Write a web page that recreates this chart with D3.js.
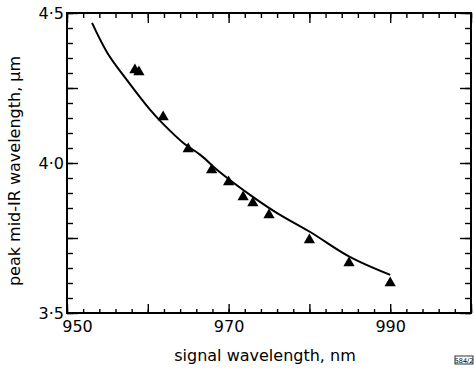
<!DOCTYPE html>
<html lang="en">
<head>
<meta charset="UTF-8">
<title>peak mid-IR wavelength</title>
<script src="https://cdn.jsdelivr.net/npm/d3@7"></script>
<style>
  body { margin: 0; background: #fff; }
  svg { display: block; font-family: "DejaVu Sans", sans-serif; }
  .axis path, .axis line { stroke: #000; }
  .axis text { fill: #000; }
</style>
</head>
<body>
<div id="chart"></div>
<script>
// measured points (triangles)
const signalNm = [958.4, 958.9, 961.9, 965.0, 967.9, 970.0, 971.8, 973.0, 975.0, 980.0, 984.9, 990.0];
const peakUm = [4.310, 4.303, 4.153, 4.047, 3.977, 3.937, 3.887, 3.867, 3.827, 3.743, 3.667, 3.600];

// theory curve
const curveNm = [953.1, 955.0, 957.4, 960.3, 961.8, 964.4, 966.5, 968.9, 973.0, 976.0, 980.1, 985.0, 990.0];
const curveUm = [4.467, 4.367, 4.277, 4.177, 4.133, 4.067, 4.027, 3.970, 3.887, 3.833, 3.770, 3.687, 3.627];

const xLabels = [950, 970, 990];
const yLabels = [3.5, 4.0, 4.5];

const w = 474, h = 368;
const m = {top: 13, right: 3, bottom: 55, left: 67};

const svg = d3.select("#chart").append("svg")
    .attr("width", w).attr("height", h);

const x = d3.scaleLinear().domain([950, 1000]).range([m.left, w - m.right]);
const y = d3.scaleLinear().domain([3.5, 4.5]).range([h - m.bottom, m.top]);

const xMinor = d3.range(950, 1001, 2);
const xMajor = d3.range(950, 1001, 10);
const yMinor = d3.range(3.5, 4.5001, 0.05);
const yMajor = [3.5, 3.75, 4.0, 4.25, 4.5];

function tickAxis(axis, scale, values, size, transform) {
    svg.append("g").attr("class", "axis")
        .attr("transform", transform)
        .call(axis(scale).tickValues(values).tickSize(size).tickFormat(""))
        .call(g => g.select(".domain").remove())
        .selectAll("line").attr("stroke-width", 1.4);
}

// inward ticks on all four sides
tickAxis(d3.axisBottom, x, xMinor, -4, `translate(0,${h - m.bottom})`);
tickAxis(d3.axisBottom, x, xMajor, -9, `translate(0,${h - m.bottom})`);
tickAxis(d3.axisTop, x, xMinor, -5, `translate(0,${m.top})`);
tickAxis(d3.axisTop, x, xMajor, -10, `translate(0,${m.top})`);
tickAxis(d3.axisLeft, y, yMinor, -6, `translate(${m.left},0)`);
tickAxis(d3.axisLeft, y, yMajor, -11, `translate(${m.left},0)`);
tickAxis(d3.axisRight, y, yMinor, -6, `translate(${w - m.right},0)`);
tickAxis(d3.axisRight, y, yMajor, -11, `translate(${w - m.right},0)`);

// tick labels
const xl = svg.append("g").attr("class", "axis")
    .attr("transform", `translate(0,${h - m.bottom})`)
    .call(d3.axisBottom(x).tickValues(xLabels).tickSize(0).tickPadding(8))
    .call(g => g.select(".domain").remove());
xl.selectAll("text").attr("font-size", 16).attr("font-family", "DejaVu Sans")
    .attr("dx", d => d === 950 ? 10 : 0);

svg.append("g").attr("class", "axis")
    .attr("transform", `translate(${m.left},0)`)
    .call(d3.axisLeft(y).tickValues(yLabels).tickSize(0).tickPadding(3)
        .tickFormat(d => d.toFixed(1).replace(".", "·")))
    .call(g => g.select(".domain").remove())
    .selectAll("text").attr("font-size", 16).attr("font-family", "DejaVu Sans");

// frame
svg.append("rect")
    .attr("x", m.left).attr("y", m.top)
    .attr("width", w - m.left - m.right).attr("height", h - m.top - m.bottom)
    .attr("fill", "none").attr("stroke", "#000").attr("stroke-width", 2);

// curve
const line = d3.line()
    .x((d, i) => x(curveNm[i]))
    .y(d => y(d))
    .curve(d3.curveCatmullRom);
svg.append("path")
    .datum(curveUm)
    .attr("d", line)
    .attr("fill", "none").attr("stroke", "#000").attr("stroke-width", 2);

// triangles
svg.selectAll(".pt")
    .data(peakUm)
    .enter()
    .append("path")
    .attr("class", "pt")
    .attr("d", d3.symbol().type(d3.symbolTriangle).size(55))
    .attr("transform", (d, i) => `translate(${x(signalNm[i])},${y(d)})`)
    .attr("fill", "#000");

// axis titles
svg.append("text")
    .attr("x", (m.left + w - m.right) / 2 - 4).attr("y", h - 7)
    .attr("text-anchor", "middle").attr("font-size", 16)
    .text("signal wavelength, nm");

svg.append("text")
    .attr("transform", `translate(20,${(m.top + h - m.bottom) / 2 + 8}) rotate(-90)`)
    .attr("text-anchor", "middle").attr("font-size", 16)
    .text("peak mid-IR wavelength, µm");

// figure number tag
const tag = svg.append("g").attr("transform", `translate(${w - 19},${h - 12})`);
tag.append("rect").attr("width", 18).attr("height", 8)
    .attr("fill", "none").attr("stroke", "#000").attr("stroke-width", 0.8);
tag.append("text").attr("x", 9).attr("y", 6.5)
    .attr("text-anchor", "middle").attr("font-size", 6.5)
    .text("584/2");
</script>
</body>
</html>
